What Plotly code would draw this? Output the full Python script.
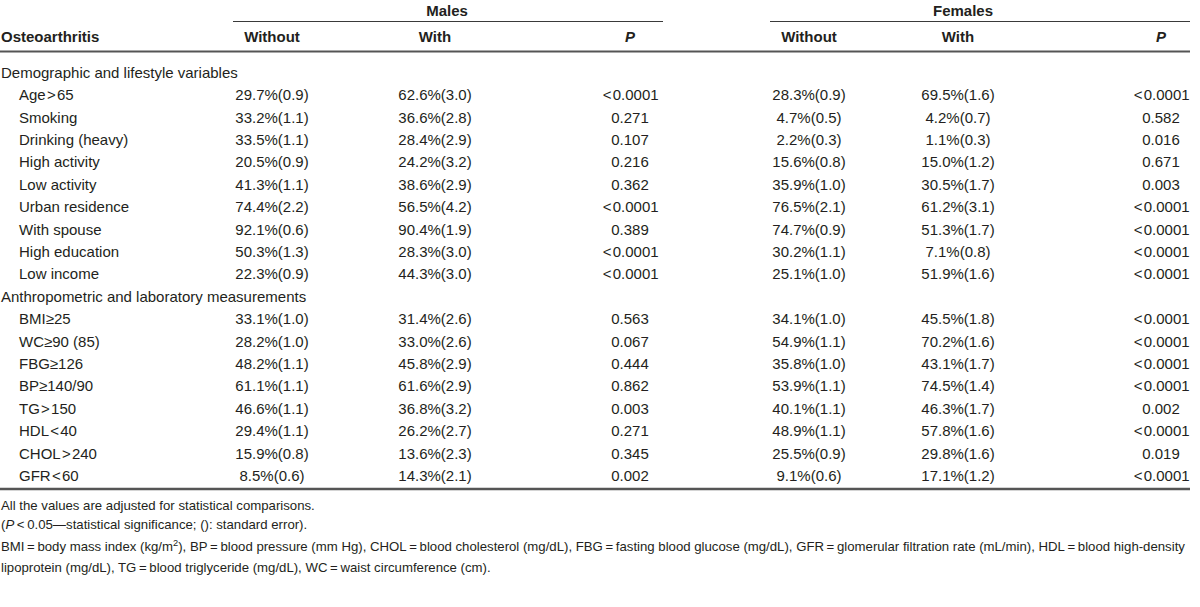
import plotly.graph_objects as go

# ---------------- data ----------------
groups = ["Males", "Females"]
col_headers = ["Without", "With", "P", "Without", "With", "P"]
row_header = "Osteoarthritis"

section1 = "Demographic and lifestyle variables"
labels1 = ["Age>65", "Smoking", "Drinking (heavy)", "High activity", "Low activity",
           "Urban residence", "With spouse", "High education", "Low income"]
m_without1 = ["29.7%(0.9)", "33.2%(1.1)", "33.5%(1.1)", "20.5%(0.9)", "41.3%(1.1)",
              "74.4%(2.2)", "92.1%(0.6)", "50.3%(1.3)", "22.3%(0.9)"]
m_with1 = ["62.6%(3.0)", "36.6%(2.8)", "28.4%(2.9)", "24.2%(3.2)", "38.6%(2.9)",
           "56.5%(4.2)", "90.4%(1.9)", "28.3%(3.0)", "44.3%(3.0)"]
m_p1 = ["<0.0001", "0.271", "0.107", "0.216", "0.362", "<0.0001", "0.389", "<0.0001", "<0.0001"]
f_without1 = ["28.3%(0.9)", "4.7%(0.5)", "2.2%(0.3)", "15.6%(0.8)", "35.9%(1.0)",
              "76.5%(2.1)", "74.7%(0.9)", "30.2%(1.1)", "25.1%(1.0)"]
f_with1 = ["69.5%(1.6)", "4.2%(0.7)", "1.1%(0.3)", "15.0%(1.2)", "30.5%(1.7)",
           "61.2%(3.1)", "51.3%(1.7)", "7.1%(0.8)", "51.9%(1.6)"]
f_p1 = ["<0.0001", "0.582", "0.016", "0.671", "0.003", "<0.0001", "<0.0001", "<0.0001", "<0.0001"]

section2 = "Anthropometric and laboratory measurements"
labels2 = ["BMI≥25", "WC≥90 (85)", "FBG≥126", "BP≥140/90", "TG>150", "HDL<40",
           "CHOL>240", "GFR<60"]
m_without2 = ["33.1%(1.0)", "28.2%(1.0)", "48.2%(1.1)", "61.1%(1.1)", "46.6%(1.1)",
              "29.4%(1.1)", "15.9%(0.8)", "8.5%(0.6)"]
m_with2 = ["31.4%(2.6)", "33.0%(2.6)", "45.8%(2.9)", "61.6%(2.9)", "36.8%(3.2)",
           "26.2%(2.7)", "13.6%(2.3)", "14.3%(2.1)"]
m_p2 = ["0.563", "0.067", "0.444", "0.862", "0.003", "0.271", "0.345", "0.002"]
f_without2 = ["34.1%(1.0)", "54.9%(1.1)", "35.8%(1.0)", "53.9%(1.1)", "40.1%(1.1)",
              "48.9%(1.1)", "25.5%(0.9)", "9.1%(0.6)"]
f_with2 = ["45.5%(1.8)", "70.2%(1.6)", "43.1%(1.7)", "74.5%(1.4)", "46.3%(1.7)",
           "57.8%(1.6)", "29.8%(1.6)", "17.1%(1.2)"]
f_p2 = ["<0.0001", "<0.0001", "<0.0001", "<0.0001", "0.002", "<0.0001", "0.019", "<0.0001"]

T = "\u2009"
footnotes = [
    "All the values are adjusted for statistical comparisons.",
    f"(<i>P</i>{T}<{T}0.05—statistical significance; (): standard error).",
    f"BMI{T}={T}body mass index (kg/m<sup>2</sup>), BP{T}={T}blood pressure (mm Hg), CHOL{T}={T}blood cholesterol (mg/dL), "
    f"FBG{T}={T}fasting blood glucose (mg/dL), GFR{T}={T}glomerular filtration rate (mL/min), HDL{T}={T}blood high-density",
    f"lipoprotein (mg/dL), TG{T}={T}blood triglyceride (mg/dL), WC{T}={T}waist circumference (cm).",
]

# ---------------- layout constants ----------------
FONT = "Liberation Sans, Arial, sans-serif"
FS = 15
FOOT_FS = 13.2
COLOR = "#231f20"
col_x = [272, 435, 630, 809, 958, 1161]
group_x = [447, 963]
group_line = [(233, 663), (770, 1190)]
label_x = 19
row0 = 74
step = 22.4

def esc(s):
    # math-style relation signs are set with a little air around them
    return (s.replace("<", "\u200a&lt;\u200a").replace(">", "\u200a&gt;\u200a"))

fig = go.Figure()

rows = []
rows.append(("sec", section1, None))
for i, lab in enumerate(labels1):
    rows.append(("row", lab, [m_without1[i], m_with1[i], m_p1[i], f_without1[i], f_with1[i], f_p1[i]]))
rows.append(("sec", section2, None))
for i, lab in enumerate(labels2):
    rows.append(("row", lab, [m_without2[i], m_with2[i], m_p2[i], f_without2[i], f_with2[i], f_p2[i]]))

ys = [row0 + k * step for k in range(len(rows))]

sec_x, sec_y, sec_t = [], [], []
lab_x, lab_y, lab_t = [], [], []
cell_x, cell_y, cell_t = [], [], []
for (kind, lab, vals), y in zip(rows, ys):
    if kind == "sec":
        sec_x.append(1); sec_y.append(y); sec_t.append(lab)
    else:
        lab_x.append(label_x); lab_y.append(y); lab_t.append(esc(lab))
        for cx, v in zip(col_x, vals):
            cell_x.append(cx); cell_y.append(y); cell_t.append(esc(v))

def text_trace(x, y, t, pos, size=FS):
    return go.Scatter(x=x, y=y, text=t, textposition=pos, mode="text", hoverinfo="skip",
                      showlegend=False, cliponaxis=False,
                      textfont=dict(family=FONT, size=size, color=COLOR))

fig.add_trace(text_trace(sec_x, sec_y, sec_t, "middle right"))
fig.add_trace(text_trace(lab_x, lab_y, lab_t, "middle right"))
fig.add_trace(text_trace(cell_x, cell_y, cell_t, "middle center"))

fig.add_trace(text_trace(group_x, [12, 12], [f"<b>{g}</b>" for g in groups], "middle center"))
hdr_t = [f"<b><i>{h}</i></b>" if h == "P" else f"<b>{h}</b>" for h in col_headers]
fig.add_trace(text_trace(col_x, [38] * 6, hdr_t, "middle center"))
fig.add_trace(text_trace([1], [38], [f"<b>{row_header}</b>"], "middle right"))

foot_y = [507, 526, 548, 569]
fig.add_trace(text_trace([1] * len(footnotes), foot_y, footnotes, "middle right", size=FOOT_FS))

shapes = []
for (a, b) in group_line:
    shapes.append(dict(type="line", xref="x", yref="y", x0=a, x1=b, y0=21.5, y1=21.5,
                       line=dict(color="#3a3a3a", width=1.2)))
shapes.append(dict(type="line", xref="x", yref="y", x0=0, x1=1190, y0=51.5, y1=51.5,
                   line=dict(color="#555555", width=2)))
shapes.append(dict(type="line", xref="x", yref="y", x0=0, x1=1190, y0=489, y1=489,
                   line=dict(color="#555555", width=2.5)))

fig.update_layout(
    shapes=shapes,
    width=1200, height=607,
    margin=dict(l=0, r=0, t=0, b=0),
    paper_bgcolor="white", plot_bgcolor="white",
    xaxis=dict(range=[0, 1200], visible=False, fixedrange=True),
    yaxis=dict(range=[607, 0], visible=False, fixedrange=True),
)
fig.write_html("out.html", config={"displayModeBar": False},
               post_script="document.body.style.margin='0';")
